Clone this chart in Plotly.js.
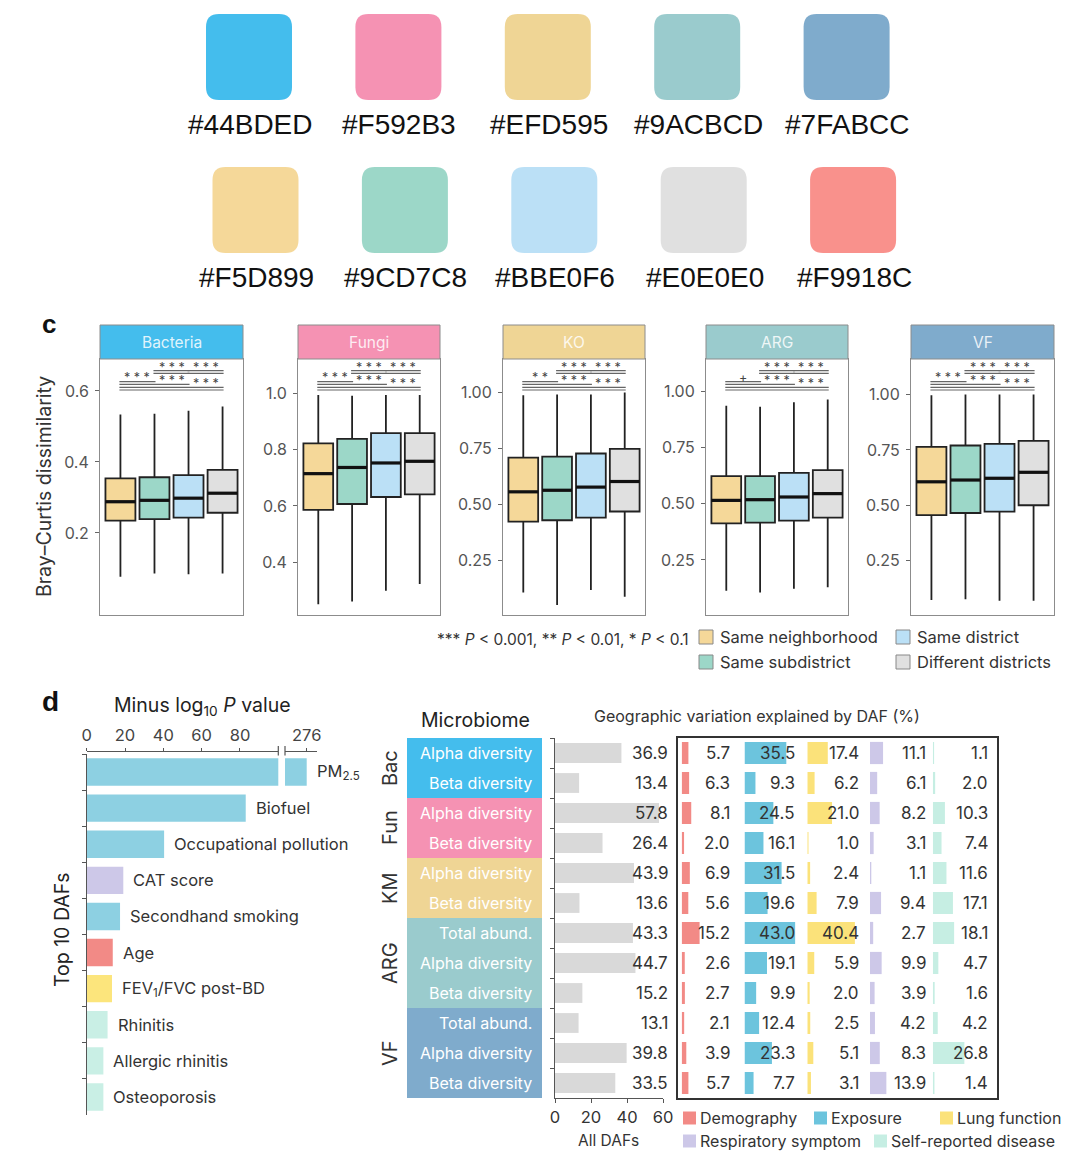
<!DOCTYPE html>
<html><head><meta charset="utf-8">
<script src="https://cdn.plot.ly/plotly-3.0.1.min.js"></script>
<style>html,body{margin:0;padding:0;background:#fff}#chart{width:1080px;height:1164px}</style>
</head><body><div id="chart"></div>
<script>
// ---------------- DATA ----------------
// colour palette (top)
const paletteRow1 = ['#44BDED','#F592B3','#EFD595','#9ACBCD','#7FABCC'];
const paletteRow2 = ['#F5D899','#9CD7C8','#BBE0F6','#E0E0E0','#F9918C'];

// panel c : Bray-Curtis dissimilarity boxplots
const microbes = ['Bacteria','Fungi','KO','ARG','VF'];
const microbeColors = ['#44BDED','#F592B3','#EFD595','#9ACBCD','#7FABCC'];
const distanceGroups = ['Same neighborhood','Same subdistrict','Same district','Different districts'];
const distanceFills = ['#F5D899','#9CD7C8','#BBE0F6','#E0E0E0'];
const bcLower  = [[0.077,0.086,0.084,0.086],[0.250,0.260,0.298,0.322],[0.107,0.052,0.119,0.089],[0.113,0.105,0.122,0.128],[0.072,0.075,0.068,0.068]];
const bcQ1     = [[0.235,0.239,0.243,0.257],[0.586,0.607,0.632,0.641],[0.424,0.430,0.442,0.469],[0.413,0.416,0.425,0.438],[0.455,0.465,0.471,0.500]];
const bcMedian = [[0.288,0.292,0.298,0.312],[0.715,0.737,0.753,0.759],[0.557,0.564,0.578,0.603],[0.515,0.518,0.530,0.545],[0.606,0.614,0.622,0.649]];
const bcQ3     = [[0.354,0.357,0.363,0.378],[0.823,0.839,0.859,0.859],[0.710,0.714,0.728,0.749],[0.623,0.623,0.637,0.650],[0.764,0.770,0.777,0.791]];
const bcUpper  = [[0.534,0.536,0.544,0.556],[0.995,0.992,0.995,0.995],[0.988,0.991,0.991,1.000],[0.936,0.932,0.952,0.964],[0.997,1.000,1.000,1.000]];
// significance comparisons (pairs of groups) and labels per panel
const compFrom = [0,1,2,0,0];
const compTo   = [1,2,3,2,3];
const compLabelAt = [0.5,1.5,2.5,1.5,2.5];
const sigLabels = [
  ['***','***','***','***','***'],
  ['***','***','***','***','***'],
  ['**','***','***','***','***'],
  ['+','***','***','***','***'],
  ['***','***','***','***','***']
];
const yTicks = [[0.2,0.4,0.6],[0.4,0.6,0.8,1.0],[0.25,0.5,0.75,1.0],[0.25,0.5,0.75,1.0],[0.25,0.5,0.75,1.0]];
const yTickFormat = ['.1f','.1f','.2f','.2f','.2f'];
const yRanges = [[-0.031,0.690],[0.212,1.123],[0.007,1.150],[0.005,1.144],[0.004,1.161]];

// panel d left : top 10 DAFs
const dafNames = ['PM<sub>2.5</sub>','Biofuel','Occupational pollution','CAT score','Secondhand smoking','Age','FEV<sub>1</sub>/FVC post-BD','Rhinitis','Allergic rhinitis','Osteoporosis'];
const dafLogP = [276, 83.0, 40.4, 19.1, 17.4, 13.6, 13.2, 10.9, 8.7, 8.7];
const dafCategory = ['Exposure','Exposure','Exposure','Respiratory symptom','Exposure','Demography','Lung function','Self-reported disease','Self-reported disease','Self-reported disease'];
const logPTicks = [0,20,40,60,80];
const logPBreakTick = [276];

// panel d right : geographic variation explained
const categoryNames = ['Demography','Exposure','Lung function','Respiratory symptom','Self-reported disease'];
const categoryColors = ['#F28A86','#6CC4DD','#FBE27A','#CDC8E8','#C6EEE3'];
const leftCategoryColors = ['#F28A86','#8DD0E2','#FCE57C','#CDC8E8','#C9EFE5'];
const groupNames = ['Bac','Fun','KM','ARG','VF'];
const groupColors = ['#44BDED','#F592B3','#EFD595','#9ACBCD','#7FABCC'];
const rowGroups = ['Bac','Bac','Fun','Fun','KM','KM','ARG','ARG','ARG','VF','VF','VF'];
const rowLabels = ['Alpha diversity','Beta diversity','Alpha diversity','Beta diversity','Alpha diversity','Beta diversity','Total abund.','Alpha diversity','Beta diversity','Total abund.','Alpha diversity','Beta diversity'];
const allDAFs      = [36.9,13.4,57.8,26.4,43.9,13.6,43.3,44.7,15.2,13.1,39.8,33.5];
const demography   = [5.7,6.3,8.1,2.0,6.9,5.6,15.2,2.6,2.7,2.1,3.9,5.7];
const exposure     = [35.5,9.3,24.5,16.1,31.5,19.6,43.0,19.1,9.9,12.4,23.3,7.7];
const lungFunction = [17.4,6.2,21.0,1.0,2.4,7.9,40.4,5.9,2.0,2.5,5.1,3.1];
const respiratory  = [11.1,6.1,8.2,3.1,1.1,9.4,2.7,9.9,3.9,4.2,8.3,13.9];
const selfReported = [1.1,2.0,10.3,7.4,11.6,17.1,18.1,4.7,1.6,4.2,26.8,1.4];
const allDAFTicks = [0,20,40,60];

// ---------------- HELPERS ----------------
const W=1080,H=1164;
const PX=x=>x/W, PY=y=>1-y/H;
const FONT='Inter, Roboto, "Liberation Sans", Arial, sans-serif';
const traces=[], shapes=[], annotations=[];
const layout={width:W,height:H,margin:{l:0,r:0,t:0,b:0},paper_bgcolor:'#fff',plot_bgcolor:'rgba(0,0,0,0)',
  showlegend:false,font:{family:FONT,color:'#333'},boxmode:'overlay',barmode:'overlay'};
function ann(o){annotations.push(Object.assign({showarrow:false,xanchor:'center',yanchor:'middle',borderpad:0,
  font:{family:FONT,size:16,color:'#333'}},o));}
function roundRect(x0,y0,x1,y1,r){
  const X=PX,Y=PY;
  return `M${X(x0+r)},${Y(y0)} L${X(x1-r)},${Y(y0)} Q${X(x1)},${Y(y0)} ${X(x1)},${Y(y0+r)} L${X(x1)},${Y(y1-r)} Q${X(x1)},${Y(y1)} ${X(x1-r)},${Y(y1)} L${X(x0+r)},${Y(y1)} Q${X(x0)},${Y(y1)} ${X(x0)},${Y(y1-r)} L${X(x0)},${Y(y0+r)} Q${X(x0)},${Y(y0)} ${X(x0+r)},${Y(y0)} Z`;
}

// ---------------- PALETTE ----------------
[[paletteRow1,206,14,125],[paletteRow2,212.5,167,277]].forEach(([row,x0,y0,ly])=>{
  row.forEach((c,i)=>{
    const xs=x0+i*149.4;
    shapes.push({type:'path',xref:'paper',yref:'paper',path:roundRect(xs,y0,xs+86,y0+86,13),fillcolor:c,line:{width:0},layer:'below'});
    ann({xref:'paper',yref:'paper',x:PX(xs+44),y:PY(ly),text:c,font:{family:'"Liberation Sans", Arial, sans-serif',size:28,color:'#111'}});
  });
});

// ---------------- PANEL C ----------------
const cLeft=[100,298,503,706,911], cRight=[243,440,645,848,1054];
const cTop=359, cBot=615, hTop=325;
ann({xref:'paper',yref:'paper',x:PX(49),y:PY(324),text:'<b>c</b>',font:{family:'"Liberation Sans", Arial, sans-serif',size:26,color:'#111'}});
ann({xref:'paper',yref:'paper',x:PX(44),y:PY(487),text:'Bray–Curtis dissimilarity',textangle:-90,font:{family:FONT,size:19.5,color:'#333'}});
const lineDy=[[22.7],[11.7,14.3],[11.7,14.3],[25.3],[28.3,31]];
const labelDy=[18.5,8.5,8.5,21.8,24.5];
microbes.forEach((m,p)=>{
  const xa='x'+(p+1), ya='y'+(p+1);
  layout['xaxis'+(p+1)]={domain:[PX(cLeft[p]),PX(cRight[p])],range:[-0.6,3.6],anchor:ya,showticklabels:false,ticks:'',
    showline:true,mirror:true,linecolor:'#8c8c8c',linewidth:1,zeroline:false,showgrid:false,fixedrange:true};
  layout['yaxis'+(p+1)]={domain:[PY(cBot),PY(cTop)],range:yRanges[p],anchor:xa,tickvals:yTicks[p],tickformat:yTickFormat[p],
    ticks:'outside',ticklen:4,tickcolor:'#666',ticklabelstandoff:3,tickfont:{family:FONT,size:16,color:'#555'},
    showline:true,mirror:true,linecolor:'#8c8c8c',linewidth:1,zeroline:false,showgrid:false,fixedrange:true};
  const mx=[],my=[];
  distanceGroups.forEach((g,k)=>{
    traces.push({type:'box',name:g,x:[k],q1:[bcQ1[p][k]],median:[bcMedian[p][k]],q3:[bcQ3[p][k]],
      lowerfence:[bcLower[p][k]],upperfence:[bcUpper[p][k]],fillcolor:distanceFills[k],
      line:{color:'#222',width:1.8},whiskerwidth:0,width:0.88,boxpoints:false,xaxis:xa,yaxis:ya,hoverinfo:'skip'});
    mx.push(k-0.44,k+0.44,null); my.push(bcMedian[p][k],bcMedian[p][k],null);
  });
  traces.push({type:'scatter',mode:'lines',x:mx,y:my,line:{color:'#111',width:3.2},xaxis:xa,yaxis:ya,hoverinfo:'skip'});
  // strip header
  shapes.push({type:'rect',xref:'paper',yref:'paper',x0:PX(cLeft[p]),x1:PX(cRight[p]),y0:PY(cTop),y1:PY(hTop),
    fillcolor:microbeColors[p],line:{color:'#8c8c8c',width:1}});
  ann({xref:'paper',yref:'paper',x:PX((cLeft[p]+cRight[p])/2),y:PY((cTop+hTop)/2),text:m,
    font:{family:FONT,size:15.5,color:'rgba(255,255,255,0.85)'}});
  // significance brackets
  compFrom.forEach((f,c)=>{
    lineDy[c].forEach(d=>{
      shapes.push({type:'line',xref:xa,yref:'paper',x0:f-0.03,x1:compTo[c]+0.03,y0:PY(cTop+d),y1:PY(cTop+d),
        line:{color:'#666',width:1.2}});
    });
    ann({xref:xa,yref:'paper',x:compLabelAt[c],y:PY(cTop+labelDy[c]),text:sigLabels[p][c].split('').join(' '),
      font:{family:FONT,size:12.5,color:'#444'}});
  });
});
// legend panel c
ann({xref:'paper',yref:'paper',x:PX(690),y:PY(639),xanchor:'right',
  text:'*** <i>P</i> &lt; 0.001, ** <i>P</i> &lt; 0.01, * <i>P</i> &lt; 0.1',font:{family:FONT,size:15.5,color:'#333'}});
const legC=[[699,637,0],[896,637,2],[699,662,1],[896,662,3]];
legC.forEach(([x,y,k])=>{
  shapes.push({type:'rect',xref:'paper',yref:'paper',x0:PX(x),x1:PX(x+14),y0:PY(y+7),y1:PY(y-7),fillcolor:distanceFills[k],line:{color:'#888',width:1}});
  ann({xref:'paper',yref:'paper',x:PX(x+20),y:PY(y),xanchor:'left',text:distanceGroups[k],font:{family:FONT,size:16.5,color:'#333'}});
});

// ---------------- PANEL D LEFT ----------------
ann({xref:'paper',yref:'paper',x:PX(50),y:PY(701),text:'<b>d</b>',font:{family:'"Liberation Sans", Arial, sans-serif',size:28,color:'#111'}});
ann({xref:'paper',yref:'paper',x:PX(202),y:PY(706),text:'Minus log<sub>10</sub> <i>P</i> value',font:{family:FONT,size:19.5,color:'#222'}});
ann({xref:'paper',yref:'paper',x:PX(62),y:PY(930),text:'Top 10 DAFs',textangle:-90,font:{family:FONT,size:19.5,color:'#222'}});
const dafColors = dafCategory.map(c=>leftCategoryColors[categoryNames.indexOf(c)]);
const axTop = PY(750.7);
layout.xaxis6={domain:[PX(86.7),PX(278.3)],range:[0,100],side:'top',anchor:'free',position:axTop,tickvals:logPTicks,
  ticks:'outside',ticklen:3,tickcolor:'#555',showline:true,linecolor:'#555',linewidth:1,showgrid:false,zeroline:false,
  tickfont:{family:FONT,size:16.5,color:'#444'},fixedrange:true};
layout.xaxis7={domain:[PX(285),PX(316.7)],range:[264.7,281.2],side:'top',anchor:'free',position:axTop,tickvals:logPBreakTick,
  ticks:'outside',ticklen:3,tickcolor:'#555',showline:true,linecolor:'#555',linewidth:1,showgrid:false,zeroline:false,
  tickfont:{family:FONT,size:16.5,color:'#444'},fixedrange:true};
layout.yaxis6={domain:[PY(1115),PY(754)],anchor:'x6',type:'category',categoryorder:'array',categoryarray:dafNames,autorange:'reversed',
  tickson:'boundaries',ticks:'outside',ticklen:4,tickcolor:'#555',showline:true,linecolor:'#555',linewidth:1,
  showticklabels:false,showgrid:false,zeroline:false,fixedrange:true};
['x6','x7'].forEach(xa=>{
  traces.push({type:'bar',orientation:'h',x:dafLogP,y:dafNames,marker:{color:dafColors,line:{width:0}},width:0.76,
    xaxis:xa,yaxis:'y6',hoverinfo:'skip'});
});
dafNames.forEach((n,i)=>{
  ann({xref:dafLogP[i]>100?'x7':'x6',yref:'y6',x:dafLogP[i],y:n,xanchor:'left',xshift:9,text:n,font:{family:FONT,size:16.5,color:'#333'}});
});
[278.3,285].forEach(x=>shapes.push({type:'line',xref:'paper',yref:'paper',x0:PX(x),x1:PX(x),y0:PY(746),y1:PY(755.5),line:{color:'#555',width:1.2}}));

// ---------------- PANEL D RIGHT ----------------
const rowIds = rowLabels.map((l,i)=>rowGroups[i]+' '+l+' '+i);
const yTopR=738, yBotR=1098;
layout.yaxis7={domain:[PY(yBotR),PY(yTopR)],anchor:'x9',type:'category',categoryorder:'array',categoryarray:rowIds,autorange:'reversed',
  tickson:'boundaries',ticks:'outside',ticklen:4,tickcolor:'#555',showline:true,linecolor:'#555',linewidth:1,
  showticklabels:false,showgrid:false,zeroline:false,fixedrange:true};
layout.xaxis8={domain:[PX(407),PX(542)],range:[0,1],anchor:'y7',visible:false,fixedrange:true};
layout.xaxis9={domain:[PX(555),PX(663)],range:[0,60],anchor:'y7',tickvals:allDAFTicks,ticks:'outside',ticklen:4,tickcolor:'#555',
  showline:true,linecolor:'#555',linewidth:1,showgrid:false,zeroline:false,tickfont:{family:FONT,size:16.5,color:'#333'},fixedrange:true};
// row label blocks
traces.push({type:'bar',orientation:'h',x:rowIds.map(()=>1),y:rowIds,width:1,
  marker:{color:rowGroups.map(g=>groupColors[groupNames.indexOf(g)]),line:{width:0}},xaxis:'x8',yaxis:'y7',hoverinfo:'skip'});
rowLabels.forEach((l,i)=>ann({xref:'x8',yref:'y7',x:1,y:rowIds[i],xanchor:'right',xshift:-9,text:l,font:{family:FONT,size:16,color:'#ffffff'}}));
groupNames.forEach(g=>{
  const idx=rowGroups.map((r,i)=>r===g?i:-1).filter(i=>i>=0);
  ann({xref:'paper',yref:'y7',x:PX(390),y:(idx[0]+idx[idx.length-1])/2,text:g,textangle:-90,font:{family:FONT,size:20,color:'#333'}});
});
ann({xref:'paper',yref:'paper',x:PX(475),y:PY(720),text:'Microbiome',font:{family:FONT,size:19.5,color:'#222'}});
ann({xref:'paper',yref:'paper',x:PX(757),y:PY(716),text:'Geographic variation explained by DAF (%)',font:{family:FONT,size:16,color:'#333'}});
// All DAFs
traces.push({type:'bar',orientation:'h',x:allDAFs,y:rowIds,width:0.66,marker:{color:'#D9D9D9',line:{width:0}},xaxis:'x9',yaxis:'y7',hoverinfo:'skip'});
allDAFs.forEach((v,i)=>ann({xref:'paper',yref:'y7',x:PX(669),y:rowIds[i],xanchor:'right',text:v.toFixed(1),font:{family:FONT,size:17,color:'#333'}}));
ann({xref:'paper',yref:'paper',x:PX(608),y:PY(1140),text:'All DAFs',font:{family:FONT,size:15.5,color:'#333'}});
// category columns
const colValues=[demography,exposure,lungFunction,respiratory,selfReported];
const colStart=[681.7,744.5,807.3,870,932.8];
const textRight=[731,796,859.5,926.5,988.5];
colValues.forEach((vals,c)=>{
  const xa='x'+(10+c);
  layout['xaxis'+(10+c)]={domain:[PX(colStart[c]),PX(colStart[c]+53)],range:[0,45],anchor:'y7',visible:false,fixedrange:true};
  traces.push({type:'bar',orientation:'h',x:vals,y:rowIds,width:0.74,marker:{color:categoryColors[c],line:{width:0}},xaxis:xa,yaxis:'y7',hoverinfo:'skip'});
  vals.forEach((v,i)=>ann({xref:'paper',yref:'y7',x:PX(textRight[c]),y:rowIds[i],xanchor:'right',text:v.toFixed(1),font:{family:FONT,size:17,color:'#333'}}));
});
shapes.push({type:'rect',xref:'paper',yref:'paper',x0:PX(677),x1:PX(998),y0:PY(yBotR+1),y1:PY(yTopR-1),line:{color:'#333',width:2},fillcolor:'rgba(0,0,0,0)'});
// legend
const legD=[[683,1118,0],[814,1118,1],[940,1118,2],[683,1141,3],[874,1141,4]];
legD.forEach(([x,y,k])=>{
  shapes.push({type:'rect',xref:'paper',yref:'paper',x0:PX(x),x1:PX(x+13),y0:PY(y+6.5),y1:PY(y-6.5),fillcolor:categoryColors[k],line:{width:0}});
  ann({xref:'paper',yref:'paper',x:PX(x+16),y:PY(y),xanchor:'left',text:categoryNames[k],font:{family:FONT,size:16,color:'#333'}});
});

layout.shapes=shapes; layout.annotations=annotations;
Plotly.newPlot('chart',traces,layout,{displayModeBar:false,staticPlot:true});
</script></body></html>
